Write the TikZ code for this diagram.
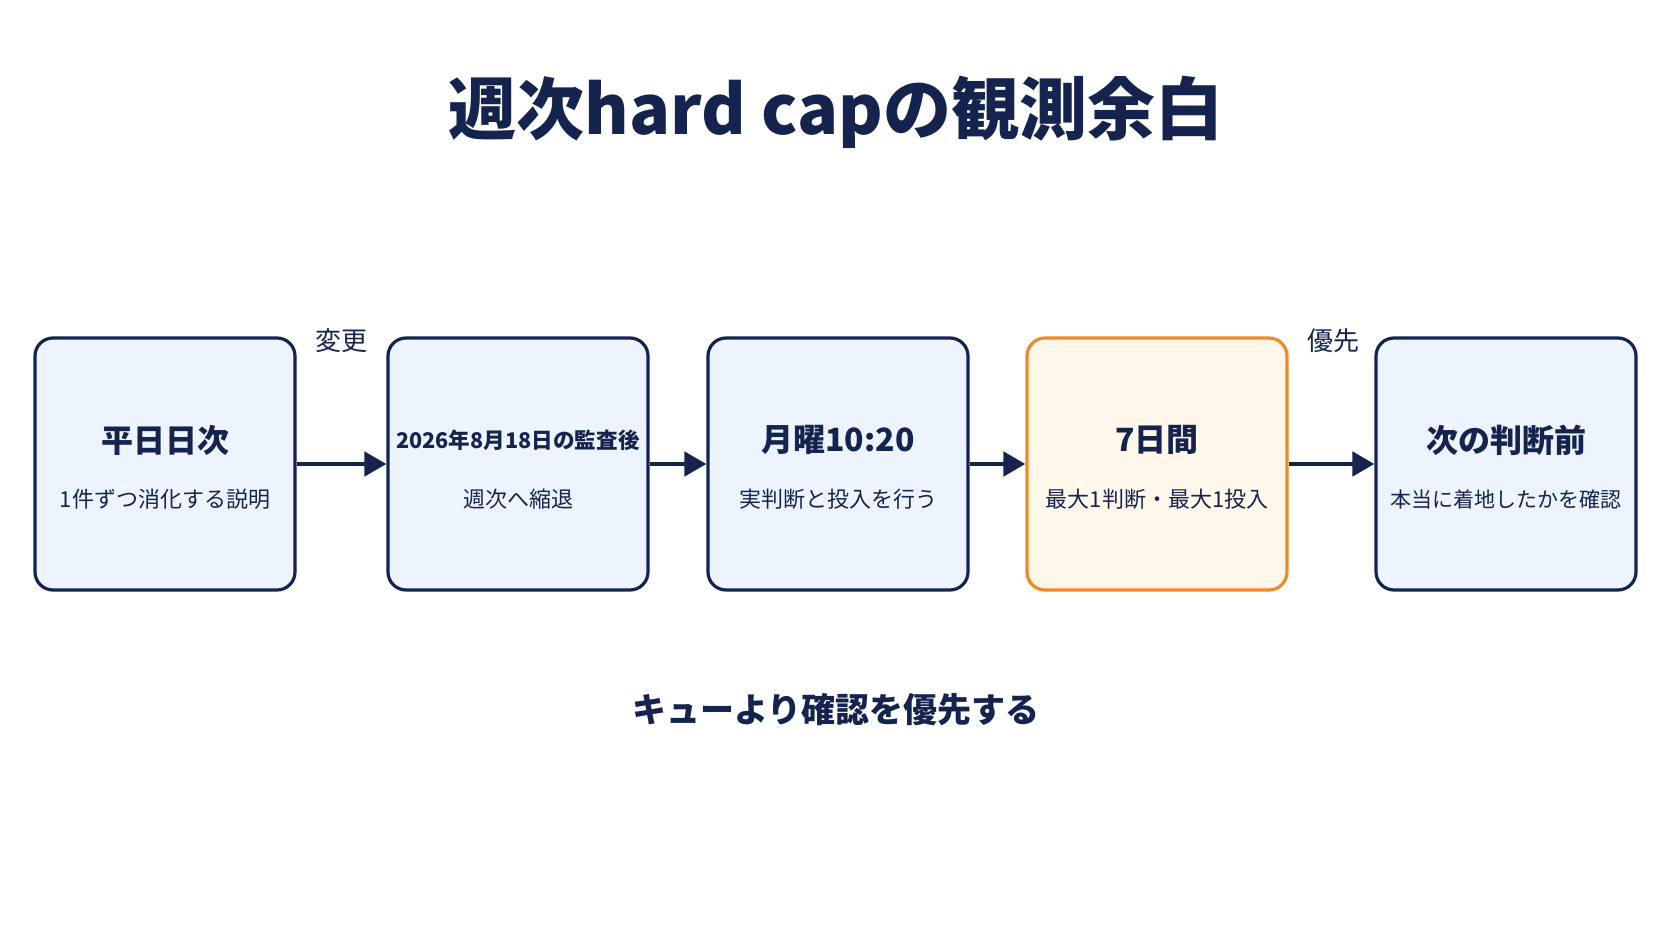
\documentclass[tikz,border=0pt]{standalone}
\usepackage{fontspec}
\setmainfont{Noto Sans CJK JP}
\usetikzlibrary{arrows.meta}
\definecolor{navy}{HTML}{15244F}
\definecolor{bfill}{HTML}{EEF4FD}
\definecolor{ofill}{HTML}{FFF7EA}
\definecolor{oline}{HTML}{EF8A25}
\begin{document}
\begin{tikzpicture}[x=0.5pt,y=-0.5pt,
 box/.style={draw=navy,line width=1.6pt,fill=bfill,rounded corners=9pt,minimum width=130pt,minimum height=126pt},
 obox/.style={box,draw=oline,fill=ofill},
 hd/.style={text=navy,font=\fontsize{16}{18}\selectfont\bfseries},
 sb/.style={text=navy,font=\fontsize{11}{14}\selectfont},
 lb/.style={text=navy,font=\fontsize{13}{15}\selectfont},
 arr/.style={draw=navy,line width=2.4pt,-{Triangle[length=11pt,width=12pt]}}]
\useasboundingbox[fill=white] (0,0) rectangle (1672,941);
\node[text=navy,font=\fontsize{34}{38}\selectfont\bfseries] (title) at (836,112) {週次hard capの観測余白};
\node[box] (b1) at (165,464) {};
\node[box] (b2) at (518,464) {};
\node[box] (b3) at (838,464) {};
\node[obox] (b4) at (1157,464) {};
\node[box] (b5) at (1506,464) {};
\node[hd] (h1) at (165,440) {平日日次};
\node[sb] (s1) at (165,499) {1件ずつ消化する説明};
\node[hd,font=\fontsize{10.8}{14}\selectfont\bfseries] (h2) at (518,440) {2026年8月18日の監査後};
\node[sb] (s2) at (518,499) {週次へ縮退};
\node[hd] (h3) at (838,440) {月曜10:20};
\node[sb] (s3) at (838,499) {実判断と投入を行う};
\node[hd] (h4) at (1157,440) {7日間};
\node[sb] (s4) at (1157,499) {最大1判断・最大1投入};
\node[hd] (h5) at (1506,440) {次の判断前};
\node[sb,font=\fontsize{10.5}{13}\selectfont] (s5) at (1506,499) {本当に着地したかを確認};
\draw[arr] (b1.east) -- (b2.west);
\draw[arr] (b2.east) -- (b3.west);
\draw[arr] (b3.east) -- (b4.west);
\draw[arr] (b4.east) -- (b5.west);
\node[lb] (l1) at (341,341) {変更};
\node[lb] (l2) at (1333,341) {優先};
\node[text=navy,font=\fontsize{17}{20}\selectfont\bfseries] (bt) at (836,710) {キューより確認を優先する};
\end{tikzpicture}
\end{document}
